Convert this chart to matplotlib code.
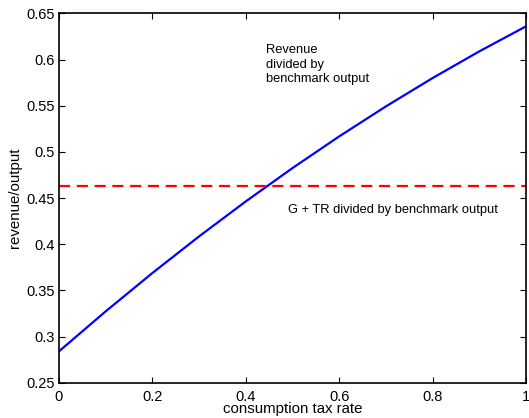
import numpy as np
import matplotlib.pyplot as plt

plt.rcParams['font.family'] = ['Liberation Sans', 'DejaVu Sans']

# consumption tax rate vs revenue/output
tax_rate = [0.0, 0.1, 0.2, 0.3, 0.4, 0.5, 0.6, 0.7, 0.8, 0.9, 1.0]
revenue = [0.284, 0.3273, 0.3688, 0.4085, 0.4464, 0.4825, 0.5168, 0.5493, 0.580, 0.6089, 0.636]
spending = 0.4627  # G + TR over benchmark output

fig = plt.figure(figsize=(5.29, 4.18), dpi=100)
ax = fig.add_axes([0.1115, 0.0844, 0.883, 0.8836])

ax.plot(tax_rate, revenue, color='#0000ff', lw=1.6)
ax.plot([0, 1], [spending, spending], color='#ff0000', lw=1.6, dashes=(5, 3))

ax.text(0.443, 0.6165, "Revenue\ndivided by\nbenchmark output", fontsize=9.3, va='top', ha='left', linespacing=1.25)
ax.text(0.49, 0.4367, "G + TR divided by benchmark output", fontsize=9.3, va='center', ha='left')

ax.set_xlim(0, 1)
ax.set_ylim(0.25, 0.65)
ax.set_xticks([0, 0.2, 0.4, 0.6, 0.8, 1])
ax.set_xticklabels(['0', '0.2', '0.4', '0.6', '0.8', '1'])
ax.set_yticks(np.arange(0.25, 0.651, 0.05))
ax.set_yticklabels(['0.25', '0.3', '0.35', '0.4', '0.45', '0.5', '0.55', '0.6', '0.65'])
ax.tick_params(direction='in', top=True, right=True, length=4, width=0.8, labelsize=10.5, pad=3)
ax.tick_params(axis='x', pad=5)
for s in ax.spines.values():
    s.set_linewidth(1.2)

ax.set_xlabel("consumption tax rate", fontsize=10.8, labelpad=-1)
ax.set_ylabel("revenue/output", fontsize=10.8, labelpad=3)

fig.savefig("out.png", dpi=100)
